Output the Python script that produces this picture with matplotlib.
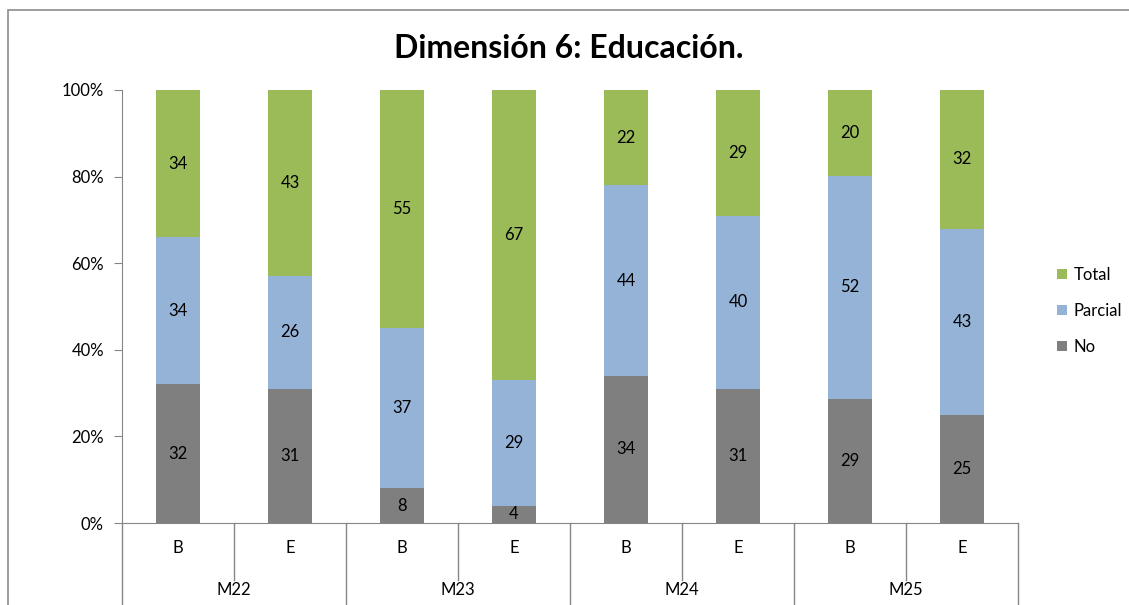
import matplotlib
matplotlib.use('Agg')
import matplotlib.pyplot as plt
import matplotlib.transforms as mtransforms
from matplotlib.patches import Rectangle
import numpy as np

# ── Data ──────────────────────────────────────────────────────
groups   = ['M22', 'M23', 'M24', 'M25']
stages   = ['B', 'E']
no_vals      = [32, 31, 8, 4, 34, 31, 29, 25]
parcial_vals = [34, 26, 37, 29, 44, 40, 52, 43]
total_vals   = [34, 43, 55, 67, 22, 29, 20, 32]

C_NO, C_PAR, C_TOT = '#7F7F7F', '#95B3D7', '#9BBB59'
AXC = '#868686'

plt.rcParams['font.family'] = ['Lato', 'DejaVu Sans']

fig = plt.figure(figsize=(11.29, 6.05), dpi=100, facecolor='white')
ax = fig.add_axes([122/1129, 1-523/605, (1018-122)/1129, 433/605])

raw = np.array([no_vals, parcial_vals, total_vals], dtype=float)
pct = raw / raw.sum(axis=0) * 100
x = np.arange(len(no_vals))
bottom = np.zeros(len(x))
handles = []
for vals, raws, col, lab in zip(pct, raw, [C_NO, C_PAR, C_TOT], ['No', 'Parcial', 'Total']):
    b = ax.bar(x, vals, bottom=bottom, width=0.4, color=col, label=lab)
    handles.append(b)
    for xi, v, bt, r in zip(x, vals, bottom, raws):
        ax.text(xi, bt + v/2, f'{int(r)}', ha='center', va='center', fontsize=12, color='black')
    bottom += vals

ax.set_xlim(-0.5, len(x) - 0.5)
ax.set_ylim(0, 100)
ax.set_yticks(np.arange(0, 101, 20))
ax.set_yticklabels([f'{v}%' for v in range(0, 101, 20)], fontsize=12)
ax.tick_params(axis='y', length=6, color=AXC, pad=7)
ax.set_xticks([])
for s in ['top', 'right']:
    ax.spines[s].set_visible(False)
for s in ['left', 'bottom']:
    ax.spines[s].set_color(AXC)

# multi-level category axis
tr = mtransforms.blended_transform_factory(ax.transData, ax.transAxes)
for i in range(len(x) + 1):
    pos = i - 0.5
    low = -0.19 if i % 2 == 0 else -0.132
    ax.plot([pos, pos], [0, low], transform=tr, color=AXC, lw=1, clip_on=False)
for i in range(len(x)):
    ax.text(i, -0.058, stages[i % 2], transform=tr, ha='center', va='center', fontsize=12)
for g, name in enumerate(groups):
    ax.text(2*g + 0.5, -0.155, name, transform=tr, ha='center', va='center', fontsize=12)

fig.text(569/1129, 1-48/605, 'Dimensión 6: Educación.', ha='center', va='center',
         fontsize=23, fontweight='bold')

leg = fig.legend(handles[::-1], ['Total', 'Parcial', 'No'], loc='center left',
                 bbox_to_anchor=(1042/1129, 1-311/605), frameon=False, fontsize=12,
                 handlelength=0.6, handleheight=0.6, labelspacing=1.2, handletextpad=0.4)

fig.add_artist(Rectangle((8/1129, -0.1), 1.2, 1.1 - 10/605 + 0.0, transform=fig.transFigure,
                         fill=False, edgecolor='#8C8C8C', lw=1.2))

fig.savefig('out.png', dpi=100, facecolor='white')
